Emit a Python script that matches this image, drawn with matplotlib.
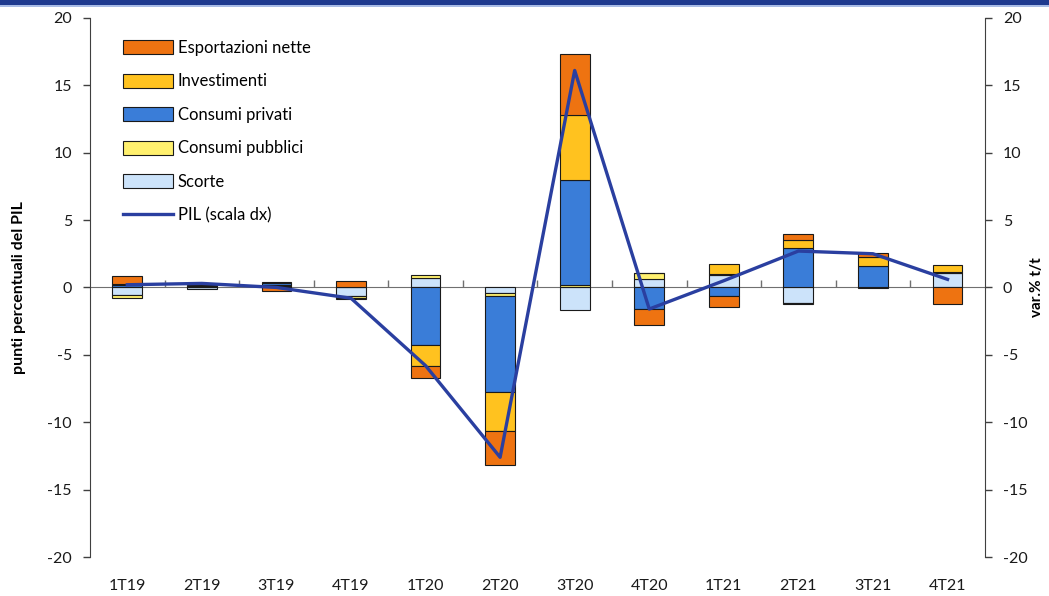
import numpy as np
import matplotlib
matplotlib.use('Agg')
import matplotlib.pyplot as plt
from matplotlib.patches import Patch, Rectangle
from matplotlib.lines import Line2D

plt.rcParams['font.family'] = ['Lato', 'DejaVu Sans']
plt.rcParams['axes.unicode_minus'] = False

quarters = ['1T19', '2T19', '3T19', '4T19', '1T20', '2T20',
            '3T20', '4T20', '1T21', '2T21', '3T21', '4T21']

# contributi alla crescita (punti percentuali del PIL)
scorte = [-0.55, -0.1, 0.1, -0.65, 0.7, -0.4, -1.65, 0.62, 0.95, -1.15, -0.05, 1.1]
consumi_pubblici = [-0.2, 0.0, 0.05, -0.1, 0.25, -0.25, 0.2, 0.45, 0.05, -0.1, 0.0, 0.05]
consumi_privati = [0.15, 0.1, 0.2, 0.05, -4.3, -7.1, 7.8, -1.6, -0.6, 2.95, 1.6, 0.0]
investimenti = [0.1, 0.05, 0.05, -0.1, -1.55, -2.9, 4.8, 0.0, 0.75, 0.6, 0.65, 0.5]
esportazioni_nette = [0.6, 0.05, -0.25, 0.45, -0.85, -2.5, 4.5, -1.2, -0.85, 0.45, 0.32, -1.2]

# PIL, var.% t/t (scala dx)
pil = [0.2, 0.3, 0.0, -0.8, -5.8, -12.6, 16.1, -1.6, 0.5, 2.7, 2.5, 0.6]

series = [
    ('Scorte', scorte, '#CCE3FA'),
    ('Consumi pubblici', consumi_pubblici, '#FFF06E'),
    ('Consumi privati', consumi_privati, '#3A7DD8'),
    ('Investimenti', investimenti, '#FFC21F'),
    ('Esportazioni nette', esportazioni_nette, '#EE7311'),
]

fig = plt.figure(figsize=(10.49, 5.96), dpi=100)
ax = fig.add_axes([0.0858, 0.0654, 0.853, 0.9046])
ax2 = ax.twinx()

x = np.arange(len(quarters))
pos_bottom = np.zeros(len(quarters))
neg_bottom = np.zeros(len(quarters))
for name, vals, col in series:
    v = np.array(vals, dtype=float)
    bottom = np.where(v >= 0, pos_bottom, neg_bottom)
    ax.bar(x, v, 0.4, bottom=bottom, color=col, edgecolor='#1a1a1a', linewidth=0.8, zorder=3)
    pos_bottom = pos_bottom + np.where(v > 0, v, 0)
    neg_bottom = neg_bottom + np.where(v < 0, v, 0)

ax2.plot(x, pil, color='#2A3FA0', linewidth=2.4, zorder=5)

for a in (ax, ax2):
    a.set_xlim(-0.5, 11.5)
    a.set_ylim(-20, 20)
    a.set_yticks(np.arange(-20, 21, 5))
    for s in ('top', 'bottom', 'left', 'right'):
        a.spines[s].set_visible(False)

ax.spines['left'].set_visible(True)
ax.spines['left'].set_color('#404040')
ax2.spines['right'].set_visible(True)
ax2.spines['right'].set_color('#404040')

ax.tick_params(axis='y', direction='out', length=5, width=1, color='#404040',
               labelsize=11.5, pad=8, labelcolor='#1a1a1a')
ax2.tick_params(axis='y', direction='out', length=5, width=1, color='#404040',
                labelsize=11.5, pad=8, labelcolor='#1a1a1a')

ax.set_xticks(x, quarters)
ax.tick_params(axis='x', length=0, pad=16, labelsize=11.5, labelcolor='#1a1a1a')

# asse orizzontale sullo zero con tacche tra i trimestri
zero = ax.secondary_xaxis(0.5)
zero.set_xticks(np.arange(0.5, 11, 1))
zero.tick_params(axis='x', direction='out', length=5, width=1, color='#707070', labelbottom=False, labeltop=False)
zero.spines['bottom'].set_color('#707070')
zero.spines['top'].set_color('#707070')

ax.set_ylabel('punti percentuali del PIL', fontsize=11.5, fontweight='bold')
ax.yaxis.set_label_coords(-0.071, 0.5)
ax2.set_ylabel('var.% t/t', fontsize=11, fontweight='bold')
ax2.yaxis.set_label_coords(1.051, 0.5)

handles = [Patch(facecolor=col, edgecolor='#1a1a1a', linewidth=0.8, label=name)
           for name, vals, col in reversed(series)]
handles.append(Line2D([], [], color='#2A3FA0', linewidth=2.4, label='PIL (scala dx)'))
ax2.legend(handles=handles, loc='upper left', bbox_to_anchor=(0.02, 0.987), frameon=False,
           fontsize=12, handlelength=3.0, handleheight=0.9, handletextpad=0.3, labelspacing=1.05)

# banda blu in alto
fig.add_artist(Rectangle((0, 1 - 5 / 596), 1, 5 / 596, transform=fig.transFigure,
                         facecolor='#1F3A8F', edgecolor='none'))
fig.add_artist(Rectangle((0, 1 - 7 / 596), 1, 2 / 596, transform=fig.transFigure,
                         facecolor='#A9BCE6', edgecolor='none'))

fig.savefig('out.png', dpi=100)
